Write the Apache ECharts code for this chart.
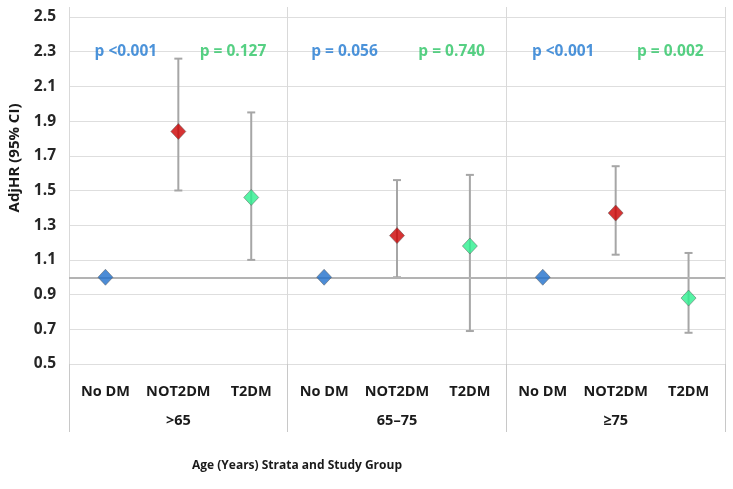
<!DOCTYPE html>
<html>
<head>
<meta charset="utf-8">
<script src="https://cdn.jsdelivr.net/npm/echarts@6/dist/echarts.min.js"></script>
<style>html,body{margin:0;padding:0;background:#fff}#c{width:733px;height:489px}</style>
</head>
<body>
<div id="c"></div>
<script>
// ---- data ----
const studyGroups = ["No DM", "NOT2DM", "T2DM"];
const strata = [">65", "65–75", "≥75"];
const adjHR  = [1.00, 1.84, 1.46,  1.00, 1.24, 1.18,  1.00, 1.37, 0.88];
const ciLow  = [1.00, 1.50, 1.10,  1.00, 1.00, 0.69,  1.00, 1.13, 0.68];
const ciHigh = [1.00, 2.26, 1.95,  1.00, 1.56, 1.59,  1.00, 1.64, 1.14];
const pNot2dm = ["p <0.001", "p = 0.056", "p <0.001"];
const pT2dm   = ["p = 0.127", "p = 0.740", "p = 0.002"];
const pRowValue = 2.3;
const refValue = 1.0;
const yMin = 0.5, yMax = 2.5, yStep = 0.2;

// ---- build ----
const groupColors = ["#1f6fcc", "#cc0000", "#2cf08f"];
const cats = [];
strata.forEach(() => studyGroups.forEach(g => cats.push(g)));
const font = "'Open Sans', sans-serif";
const everyThird = (i) => i % 3 === 0;

const pointData = adjHR.map((v, i) => ({
  value: [i, v],
  itemStyle: { color: groupColors[i % 3], borderColor: "#555", borderWidth: 0.6 }
}));
const ciData = adjHR.map((v, i) => [i, ciLow[i], ciHigh[i]]);
const pData = [];
strata.forEach((s, g) => {
  pData.push({ value: [g * 3 + 0.28, pRowValue], label: { formatter: pNot2dm[g], color: "#1f78d1" } });
  pData.push({ value: [g * 3 + 1.75, pRowValue], label: { formatter: pT2dm[g], color: "#2cc464" } });
});

const chart = echarts.init(document.getElementById('c'), null, { renderer: 'canvas' });
chart.setOption({
  animation: false,
  backgroundColor: "#fff",
  textStyle: { fontFamily: font },
  grid: { left: 69, right: 8, top: 17, bottom: 125 },
  title: {
    text: "Age (Years) Strata and Study Group",
    left: 187, top: 455,
    textStyle: { fontFamily: font, fontWeight: "bold", fontSize: 12, color: "#1a1a1a" }
  },
  graphic: [{
    type: "text", x: 15, y: 158, rotation: Math.PI / 2,
    style: { text: "AdjHR (95% CI)", font: "bold 15px 'Open Sans', sans-serif", fill: "#1a1a1a",
             textAlign: "center", textVerticalAlign: "middle" }
  }],
  xAxis: [
    { // study groups
      type: "category", data: cats, gridIndex: 0, position: "bottom",
      boundaryGap: true,
      axisLine: { show: false },
      axisTick: { show: true, interval: everyThird, length: 68, lineStyle: { color: "#c8c8c8", width: 1 } },
      axisLabel: { interval: 0, margin: 20, fontSize: 14.5, fontWeight: "bold", color: "#1a1a1a", fontFamily: font },
      splitLine: { show: true, interval: everyThird, lineStyle: { color: "#d9d9d9", width: 1 } }
    },
    { // strata
      type: "category", data: strata, gridIndex: 0, position: "bottom",
      axisLine: { show: false }, axisTick: { show: false },
      axisLabel: { interval: 0, margin: 49, fontSize: 14.5, fontWeight: "bold", color: "#1a1a1a", fontFamily: font },
      splitLine: { show: false }
    },
    { // hidden value axis for annotations
      type: "value", min: -0.5, max: 8.5, show: false, gridIndex: 0
    },
    { // top tick extensions
      type: "category", data: cats, gridIndex: 0, position: "top",
      axisLine: { show: false }, axisLabel: { show: false },
      axisTick: { show: true, interval: everyThird, length: 10, lineStyle: { color: "#d9d9d9" } },
      splitLine: { show: false }
    }
  ],
  yAxis: {
    type: "value", min: yMin, max: yMax, interval: yStep,
    axisLine: { show: false }, axisTick: { show: false },
    axisLabel: { margin: 13, fontSize: 15.5, fontWeight: "bold", color: "#262626", fontFamily: font,
                 formatter: v => v.toFixed(1) },
    splitLine: { lineStyle: { color: "#dedede", width: 1 } }
  },
  series: [
    {
      type: "custom", xAxisIndex: 0, yAxisIndex: 0, data: ciData, z: 3,
      renderItem: function (params, api) {
        const x = api.value(0);
        const lo = api.coord([x, api.value(1)]);
        const hi = api.coord([x, api.value(2)]);
        if (Math.abs(lo[1] - hi[1]) < 0.5) return { type: "group", children: [] };
        const cap = 4;
        const st = { stroke: "#a6a6a6", lineWidth: 2 };
        return {
          type: "group",
          children: [
            { type: "line", shape: { x1: lo[0], y1: lo[1], x2: hi[0], y2: hi[1] }, style: st },
            { type: "line", shape: { x1: lo[0] - cap, y1: lo[1], x2: lo[0] + cap, y2: lo[1] }, style: st },
            { type: "line", shape: { x1: hi[0] - cap, y1: hi[1], x2: hi[0] + cap, y2: hi[1] }, style: st }
          ]
        };
      }
    },
    {
      type: "scatter", xAxisIndex: 0, yAxisIndex: 0, data: pointData, z: 5,
      symbol: "diamond", symbolSize: [15, 16],
      markLine: {
        silent: true, symbol: ["none", "none"], label: { show: false },
        lineStyle: { color: "#b3b3b3", width: 2, type: "solid" },
        data: [{ yAxis: refValue }]
      }
    },
    {
      type: "scatter", xAxisIndex: 2, yAxisIndex: 0, data: pData, symbolSize: 0, z: 6,
      label: { show: true, position: "inside", fontSize: 15.5, fontWeight: "bold", fontFamily: font }
    }
  ]
});
</script>
</body>
</html>
